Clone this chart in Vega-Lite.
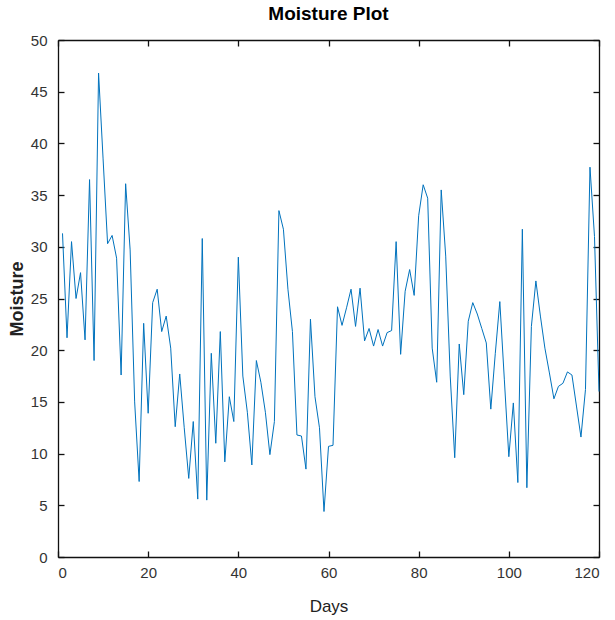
{
  "$schema": "https://vega.github.io/schema/vega-lite/v6.json",
  "width": 541,
  "height": 517,
  "autosize": {"type": "none"},
  "padding": {"left": 58, "top": 40, "right": 16, "bottom": 63},
  "background": "white",
  "title": {"text": "Moisture Plot", "font": "Liberation Sans", "fontSize": 19, "fontWeight": "bold", "color": "black", "offset": 9, "anchor": "middle"},
  "config": {
    "view": {"stroke": null},
    "axis": {
      "grid": false,
      "domainColor": "#111111",
      "domainWidth": 1.3,
      "tickColor": "#111111",
      "tickSize": -6,
      "tickWidth": 1.3,
      "labelFont": "Liberation Sans",
      "labelFontSize": 15,
      "labelColor": "#333333",
      "titleFont": "Liberation Sans",
      "titleColor": "#222222"
    }
  },
  "data": {"values": [
    {"d":1,"m":31.3},{"d":2,"m":21.2},{"d":3,"m":30.5},{"d":4,"m":25.0},{"d":5,"m":27.5},{"d":6,"m":21.0},{"d":7,"m":36.5},{"d":8,"m":19.0},{"d":9,"m":46.8},{"d":10,"m":38.5},
    {"d":11,"m":30.3},{"d":12,"m":31.1},{"d":13,"m":28.9},{"d":14,"m":17.6},{"d":15,"m":36.1},{"d":16,"m":29.7},{"d":17,"m":15.0},{"d":18,"m":7.3},{"d":19,"m":22.6},{"d":20,"m":13.9},
    {"d":21,"m":24.6},{"d":22,"m":25.9},{"d":23,"m":21.8},{"d":24,"m":23.3},{"d":25,"m":20.2},{"d":26,"m":12.6},{"d":27,"m":17.7},{"d":28,"m":12.5},{"d":29,"m":7.6},{"d":30,"m":13.1},
    {"d":31,"m":5.6},{"d":32,"m":30.8},{"d":33,"m":5.5},{"d":34,"m":19.7},{"d":35,"m":11.0},{"d":36,"m":21.8},{"d":37,"m":9.2},{"d":38,"m":15.5},{"d":39,"m":13.1},{"d":40,"m":29.0},
    {"d":41,"m":17.5},{"d":42,"m":14.0},{"d":43,"m":8.9},{"d":44,"m":19.0},{"d":45,"m":16.9},{"d":46,"m":14.0},{"d":47,"m":9.9},{"d":48,"m":13.1},{"d":49,"m":33.5},{"d":50,"m":31.7},
    {"d":51,"m":25.9},{"d":52,"m":21.8},{"d":53,"m":11.8},{"d":54,"m":11.7},{"d":55,"m":8.5},{"d":56,"m":23.0},{"d":57,"m":15.5},{"d":58,"m":12.5},{"d":59,"m":4.4},{"d":60,"m":10.7},
    {"d":61,"m":10.8},{"d":62,"m":24.2},{"d":63,"m":22.4},{"d":64,"m":24.1},{"d":65,"m":25.9},{"d":66,"m":22.3},{"d":67,"m":26.0},{"d":68,"m":20.9},{"d":69,"m":22.1},{"d":70,"m":20.4},
    {"d":71,"m":22.0},{"d":72,"m":20.4},{"d":73,"m":21.7},{"d":74,"m":21.9},{"d":75,"m":30.5},{"d":76,"m":19.6},{"d":77,"m":25.7},{"d":78,"m":27.8},{"d":79,"m":25.3},{"d":80,"m":33.0},
    {"d":81,"m":36.0},{"d":82,"m":34.7},{"d":83,"m":20.2},{"d":84,"m":16.9},{"d":85,"m":35.5},{"d":86,"m":29.1},{"d":87,"m":17.5},{"d":88,"m":9.6},{"d":89,"m":20.6},{"d":90,"m":15.7},
    {"d":91,"m":22.8},{"d":92,"m":24.6},{"d":93,"m":23.5},{"d":94,"m":22.1},{"d":95,"m":20.7},{"d":96,"m":14.3},{"d":97,"m":19.7},{"d":98,"m":24.7},{"d":99,"m":17.2},{"d":100,"m":9.7},
    {"d":101,"m":14.9},{"d":102,"m":7.2},{"d":103,"m":31.7},{"d":104,"m":6.7},{"d":105,"m":22.3},{"d":106,"m":26.7},{"d":107,"m":23.3},{"d":108,"m":20.2},{"d":109,"m":17.8},{"d":110,"m":15.3},
    {"d":111,"m":16.5},{"d":112,"m":16.8},{"d":113,"m":17.9},{"d":114,"m":17.6},{"d":115,"m":14.6},{"d":116,"m":11.6},{"d":117,"m":16.2},{"d":118,"m":37.7},{"d":119,"m":31.0},{"d":120,"m":16.0}
  ]},
  "layer": [
    {
      "mark": {"type": "line", "color": "#0072BD", "strokeWidth": 1},
      "encoding": {
        "x": {"field": "d", "type": "quantitative", "scale": {"domain": [0, 120], "nice": false},
              "axis": {"orient": "bottom", "title": "Days", "values": [0, 20, 40, 60, 80, 100, 120], "labelPadding": 14, "titleFontSize": 17, "titleFontWeight": "normal", "titlePadding": 18}},
        "y": {"field": "m", "type": "quantitative", "scale": {"domain": [0, 50], "nice": false},
              "axis": {"orient": "left", "title": "Moisture", "values": [0, 5, 10, 15, 20, 25, 30, 35, 40, 45, 50], "labelPadding": 17, "titleFontSize": 18, "titleFontWeight": "bold", "titlePadding": 4}}
      }
    },
    {
      "mark": {"type": "line", "opacity": 0},
      "encoding": {
        "x": {"field": "d", "type": "quantitative", "scale": {"domain": [0, 120], "nice": false},
              "axis": {"orient": "top", "title": null, "labels": false, "values": [0, 20, 40, 60, 80, 100, 120]}},
        "y": {"field": "m", "type": "quantitative", "scale": {"domain": [0, 50], "nice": false},
              "axis": {"orient": "right", "title": null, "labels": false, "values": [0, 5, 10, 15, 20, 25, 30, 35, 40, 45, 50]}}
      }
    }
  ],
  "resolve": {"axis": {"x": "independent", "y": "independent"}}
}
